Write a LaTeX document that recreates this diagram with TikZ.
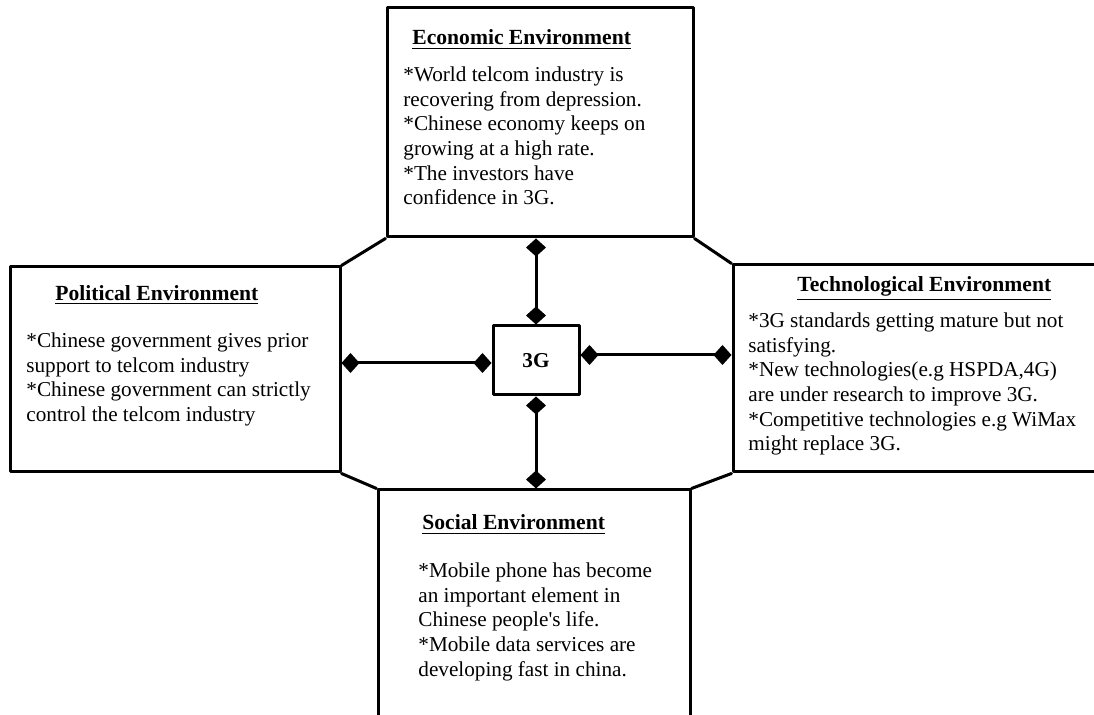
\documentclass[tikz,border=0pt]{standalone}
\usepackage{fontspec}
\setmainfont{Liberation Serif}
\usetikzlibrary{arrows.meta}
\begin{document}
\begin{tikzpicture}[x=0.5pt, y=-0.5pt, >={Diamond[length=9pt,width=10pt]}, line join=round, line cap=round,
	font=\fontsize{10.6}{12.3}\selectfont,
	env/.style={draw, line width=1.5pt, inner sep=0pt},
	head/.style={anchor=base west, inner sep=0pt, font=\fontsize{10.8}{12.3}\selectfont\bfseries},
	body/.style={anchor=north west, align=left, inner sep=0pt},
	link/.style={line width=1.5pt, <->}]
	\clip (0,0) rectangle (1094,715);
	% bốn khung
	\node[env, minimum width=153pt, minimum height=114.5pt] (eco) at (540,122.5) {};
	\node[env, minimum width=165pt, minimum height=102.5pt] (pol) at (175,369.5) {};
	\node[env, minimum width=185.5pt, minimum height=103.5pt] (tec) at (918.5,368.5) {};
	\node[env, minimum width=156pt, minimum height=120pt] (soc) at (534,610) {};
	\node[env, minimum width=43pt, minimum height=34.5pt, font=\fontsize{10.6}{12.3}\selectfont\bfseries] (g) at (536,360.5) {3G};
	% bát giác
	\draw[line width=1.5pt] (eco.south west)--(pol.north east) (pol.south east)--(soc.north west)
		(soc.north east)--(tec.south west) (tec.north west)--(eco.south east);
	\draw[link] (g.north)--(g.north |- eco.south);
	\draw[link] (g.south)--(g.south |- soc.north);
	\draw[link] ([yshift=-1.25pt]g.west)--([yshift=-1.25pt]g.west -| pol.east);
	\draw[link] ([yshift=2.75pt]g.east)--([yshift=2.75pt]g.east -| tec.west);
	% chữ
	\node[head] (ecoh) at (412,45) {\underline{Economic Environment}};
	\node[body] (ecot) at (403,66.5) {*World telcom industry is\\recovering from depression.\\*Chinese economy keeps on\\growing at a high rate.\\*The investors have\\confidence in 3G.};
	\node[head] (polh) at (55,300.5) {\underline{Political Environment}};
	\node[body] (polt) at (26,332.5) {*Chinese government gives prior\\support to telcom industry\\*Chinese government can strictly\\control the telcom industry};
	\node[head] (tech) at (797,292) {\underline{Technological Environment}};
	\node[body] (tect) at (748,312.5) {*3G standards getting mature but not\\satisfying.\\*New technologies(e.g HSPDA,4G)\\are under research to improve 3G.\\*Competitive technologies e.g WiMax\\might replace 3G.};
	\node[head] (soch) at (422,530) {\underline{Social Environment}};
	\node[body] (soct) at (418,562.5) {*Mobile phone has become\\an important element in\\Chinese people\textquotesingle s life.\\*Mobile data services are\\developing fast in china.};
\end{tikzpicture}
\end{document}
